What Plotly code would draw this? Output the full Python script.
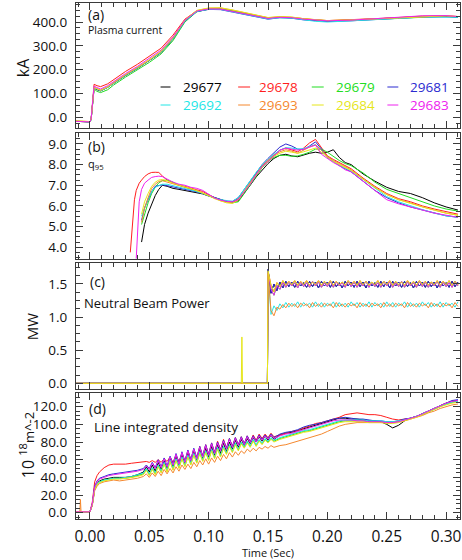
import plotly.graph_objects as go

NAMES = ["29677", "29678", "29679", "29681", "29692", "29693", "29684", "29683"]
COLORS = ["#000000", "#ff1e1e", "#22dd22", "#2a2ad0", "#22e6e6", "#f5882e", "#e6e61a", "#ee22ee"]

# ---------------- (a) Plasma current [kA]
TA = [-0.012, 0.0, 0.001, 0.0035, 0.006, 0.009, 0.015, 0.02, 0.03, 0.04, 0.05, 0.06, 0.07, 0.08,
      0.09, 0.10, 0.11, 0.12, 0.13, 0.14, 0.15, 0.16, 0.17, 0.18, 0.19, 0.20, 0.22, 0.24, 0.26,
      0.28, 0.30, 0.31]
IP = {
    "29677": [-18, -20, -10, 122, 115, 110, 125, 142, 175, 205, 237, 272, 328, 403, 444, 455, 455, 446, 437, 426, 416, 420, 418, 412, 408, 405, 408, 413, 418, 423, 424, 421],
    "29678": [-18, -20, -8, 138, 132, 128, 140, 158, 192, 222, 255, 290, 345, 412, 447, 455, 454, 446, 437, 427, 417, 421, 419, 413, 409, 406, 409, 414, 419, 425, 426, 423],
    "29679": [-18, -20, -12, 118, 108, 103, 115, 135, 168, 198, 230, 266, 322, 400, 443, 454, 455, 447, 438, 427, 417, 420, 418, 411, 407, 404, 407, 412, 417, 422, 424, 421],
    "29681": [-18, -20, -10, 124, 118, 112, 126, 144, 176, 206, 238, 273, 330, 404, 444, 453, 452, 442, 432, 421, 412, 418, 416, 409, 404, 402, 405, 410, 416, 421, 422, 420],
    "29692": [-17, -20, -10, 124, 117, 111, 125, 143, 176, 206, 238, 273, 329, 404, 444, 454, 453, 444, 434, 423, 413, 418, 416, 408, 403, 400, 404, 409, 415, 421, 422, 420],
    "29693": [-16, -19, -10, 125, 119, 113, 127, 145, 178, 208, 240, 276, 333, 408, 448, 458, 459, 450, 440, 428, 418, 422, 420, 414, 409, 406, 409, 414, 419, 424, 426, 423],
    "29684": [-16, -19, -10, 125, 119, 113, 127, 146, 179, 209, 241, 277, 334, 409, 449, 459, 460, 451, 441, 429, 419, 423, 421, 414, 409, 406, 409, 414, 419, 424, 426, 423],
    "29683": [-18, -20, -9, 130, 124, 118, 132, 150, 183, 213, 246, 282, 337, 408, 446, 455, 454, 445, 436, 425, 415, 420, 418, 412, 407, 405, 408, 413, 419, 426, 427, 423],
}

# ---------------- (b) q95
TB = [0.034, 0.0375, 0.039, 0.0415, 0.0435, 0.046, 0.049, 0.052, 0.055, 0.058, 0.061, 0.065,
      0.070, 0.075, 0.080, 0.085, 0.090, 0.095, 0.100, 0.105, 0.110, 0.115, 0.120, 0.125, 0.130,
      0.135, 0.140, 0.145, 0.150, 0.155, 0.160, 0.165, 0.170, 0.175, 0.180, 0.185, 0.190, 0.195,
      0.200, 0.205, 0.210, 0.215, 0.220, 0.230, 0.240, 0.250, 0.260, 0.270, 0.280, 0.290, 0.300, 0.310]
N = None
Q95 = {
    "29677": [N, N, N, N, 4.25, 5.1, 5.65, 6.1, 6.5, 6.8, 7.0, 6.95, 6.85, 6.8, 6.75, 6.7, 6.65, 6.58, 6.48, 6.38, 6.3, 6.22, 6.18, 6.25, 6.6, 7.0, 7.4, 7.75, 8.05, 8.3, 8.45, 8.5, 8.42, 8.38, 8.48, 8.55, 8.6, 8.55, 8.6, 8.72, 8.35, 8.1, 8.0, 7.55, 7.2, 6.9, 6.7, 6.6, 6.4, 6.15, 5.95, 5.8],
    "29678": [3.75, 6.3, 6.75, 7.1, 7.25, 7.42, 7.55, 7.62, 7.63, 7.62, 7.45, 7.25, 7.12, 7.0, 6.95, 6.85, 6.78, 6.7, 6.55, 6.4, 6.3, 6.22, 6.2, 6.35, 6.7, 7.1, 7.55, 7.95, 8.2, 8.45, 8.7, 8.8, 8.7, 8.62, 8.8, 9.05, 9.22, 8.8, 8.42, 8.25, 8.1, 7.95, 7.8, 7.35, 6.95, 6.6, 6.35, 6.2, 6.0, 5.85, 5.72, 5.6],
    "29679": [N, N, N, N, 5.1, 5.6, 6.15, 6.6, 6.9, 7.12, 7.22, 7.25, 7.15, 7.0, 6.92, 6.82, 6.72, 6.6, 6.5, 6.4, 6.3, 6.22, 6.15, 6.2, 6.6, 7.0, 7.45, 7.85, 8.15, 8.35, 8.45, 8.45, 8.4, 8.42, 8.5, 8.6, 8.75, 8.75, 8.6, 8.4, 8.2, 8.05, 7.95, 7.6, 7.15, 6.8, 6.6, 6.4, 6.2, 6.0, 5.85, 5.75],
    "29681": [N, N, N, N, 5.3, 5.9, 6.3, 6.7, 6.95, 7.0, 7.02, 6.98, 6.92, 6.88, 6.82, 6.75, 6.68, 6.6, 6.5, 6.4, 6.3, 6.22, 6.22, 6.4, 6.8, 7.2, 7.65, 8.0, 8.3, 8.6, 8.85, 9.0, 8.9, 8.75, 8.72, 8.9, 9.1, 8.75, 8.35, 8.15, 7.95, 7.8, 7.65, 7.2, 6.75, 6.4, 6.15, 5.95, 5.8, 5.65, 5.52, 5.45],
    "29692": [N, N, N, N, 5.5, 5.9, 6.35, 6.7, 6.9, 6.98, 7.05, 7.05, 6.98, 6.92, 6.85, 6.78, 6.7, 6.6, 6.48, 6.38, 6.3, 6.25, 6.22, 6.4, 6.82, 7.2, 7.62, 7.98, 8.25, 8.5, 8.7, 8.82, 8.8, 8.75, 8.78, 8.88, 8.97, 8.7, 8.38, 8.15, 7.98, 7.82, 7.7, 7.28, 6.85, 6.45, 6.2, 6.0, 5.82, 5.65, 5.52, 5.45],
    "29693": [N, N, N, N, 5.2, 5.9, 6.4, 6.85, 7.05, 7.18, 7.22, 7.15, 7.05, 6.98, 6.9, 6.82, 6.75, 6.62, 6.48, 6.35, 6.25, 6.18, 6.15, 6.3, 6.72, 7.12, 7.55, 7.92, 8.2, 8.45, 8.62, 8.72, 8.65, 8.55, 8.7, 8.85, 8.95, 8.7, 8.4, 8.2, 8.05, 7.9, 7.75, 7.3, 6.9, 6.55, 6.3, 6.15, 5.95, 5.8, 5.65, 5.55],
    "29684": [N, N, N, N, 5.6, 6.2, 6.6, 6.95, 7.15, 7.25, 7.28, 7.22, 7.1, 7.0, 6.92, 6.85, 6.75, 6.62, 6.5, 6.35, 6.25, 6.15, 6.12, 6.28, 6.7, 7.1, 7.5, 7.88, 8.15, 8.4, 8.55, 8.65, 8.6, 8.55, 8.62, 8.72, 8.8, 8.6, 8.35, 8.15, 8.0, 7.85, 7.72, 7.3, 6.9, 6.55, 6.3, 6.12, 5.95, 5.8, 5.65, 5.55],
    "29683": [N, N, 3.45, 6.2, 6.8, 7.1, 7.25, 7.38, 7.42, 7.44, 7.42, 7.3, 7.15, 7.05, 7.0, 6.9, 6.85, 6.75, 6.55, 6.38, 6.28, 6.22, 6.2, 6.3, 6.68, 7.05, 7.5, 7.9, 8.15, 8.45, 8.7, 8.8, 8.75, 8.7, 8.75, 8.85, 8.95, 8.5, 8.3, 8.1, 7.95, 7.75, 7.65, 7.2, 6.75, 6.3, 6.1, 5.95, 5.8, 5.65, 5.55, 5.45],
}

# ---------------- (c) Neutral beam power [MW]
TC_PRE = [-0.012, 0.1275, 0.128, 0.1285, 0.1495]
PNB_PRE = {"spike": [0, 0, 0.70, 0, 0], "flat": [0, 0, 0, 0, 0]}
TC_STEP = 0.0025  # sampling of the beam trace after switch-on at 0.150 s
PNB_UP_A = [1.72, 1.36, 1.50, 1.40, 1.53, 1.44, 1.54, 1.46, 1.53, 1.45,
            1.54, 1.47, 1.52, 1.45, 1.54, 1.46, 1.53, 1.44, 1.54, 1.47,
            1.53, 1.45, 1.54, 1.46, 1.52, 1.44, 1.54, 1.47, 1.53, 1.45,
            1.54, 1.46, 1.53, 1.44, 1.54, 1.47, 1.52, 1.45, 1.54, 1.46,
            1.53, 1.44, 1.54, 1.47, 1.53, 1.45, 1.54, 1.46, 1.52, 1.44,
            1.54, 1.47, 1.53, 1.45, 1.54, 1.46, 1.53, 1.44, 1.54, 1.47,
            1.52, 1.45, 1.54, 1.46, 1.53]
PNB_UP_B = [1.68, 1.42, 1.33, 1.48, 1.42, 1.52, 1.45, 1.53, 1.47, 1.52,
            1.44, 1.53, 1.46, 1.52, 1.45, 1.54, 1.47, 1.53, 1.45, 1.52,
            1.46, 1.54, 1.45, 1.53, 1.47, 1.52, 1.45, 1.54, 1.46, 1.53,
            1.45, 1.52, 1.47, 1.54, 1.45, 1.53, 1.46, 1.52, 1.45, 1.54,
            1.47, 1.53, 1.45, 1.52, 1.46, 1.54, 1.45, 1.53, 1.47, 1.52,
            1.45, 1.54, 1.46, 1.53, 1.45, 1.52, 1.47, 1.54, 1.45, 1.53,
            1.46, 1.52, 1.45, 1.54, 1.47]
PNB_UP_C = [1.70, 1.48, 1.38, 1.52, 1.46, 1.55, 1.48, 1.54, 1.49, 1.55,
            1.48, 1.54, 1.49, 1.55, 1.48, 1.53, 1.49, 1.55, 1.48, 1.54,
            1.49, 1.55, 1.48, 1.54, 1.49, 1.53, 1.48, 1.55, 1.49, 1.54,
            1.48, 1.55, 1.49, 1.54, 1.48, 1.53, 1.49, 1.55, 1.48, 1.54,
            1.49, 1.55, 1.48, 1.54, 1.49, 1.53, 1.48, 1.55, 1.49, 1.54,
            1.48, 1.55, 1.49, 1.54, 1.48, 1.53, 1.49, 1.55, 1.48, 1.54,
            1.49, 1.55, 1.48, 1.54, 1.49]
PNB_LO_A = [1.70, 1.04, 1.17, 1.10, 1.20, 1.14, 1.22, 1.15, 1.21, 1.16,
            1.23, 1.15, 1.22, 1.17, 1.21, 1.15, 1.23, 1.16, 1.22, 1.15,
            1.21, 1.17, 1.23, 1.15, 1.22, 1.16, 1.21, 1.15, 1.23, 1.17,
            1.22, 1.15, 1.21, 1.16, 1.23, 1.15, 1.22, 1.17, 1.21, 1.15,
            1.23, 1.16, 1.22, 1.15, 1.21, 1.17, 1.23, 1.15, 1.22, 1.16,
            1.21, 1.15, 1.23, 1.17, 1.22, 1.15, 1.21, 1.16, 1.23, 1.15,
            1.22, 1.17, 1.21, 1.15, 1.23]
PNB_LO_B = [1.66, 1.10, 1.02, 1.15, 1.12, 1.19, 1.14, 1.21, 1.16, 1.20,
            1.14, 1.21, 1.17, 1.20, 1.14, 1.22, 1.16, 1.20, 1.15, 1.21,
            1.17, 1.20, 1.14, 1.22, 1.16, 1.20, 1.15, 1.21, 1.17, 1.20,
            1.14, 1.22, 1.16, 1.20, 1.15, 1.21, 1.17, 1.20, 1.14, 1.22,
            1.16, 1.20, 1.15, 1.21, 1.17, 1.20, 1.14, 1.22, 1.16, 1.20,
            1.15, 1.21, 1.17, 1.20, 1.14, 1.22, 1.16, 1.20, 1.15, 1.21,
            1.17, 1.20, 1.14, 1.22, 1.16]
PNB = {
    "29677": ("flat", PNB_UP_A), "29678": ("flat", PNB_UP_C), "29679": ("flat", PNB_UP_B),
    "29681": ("flat", PNB_UP_A), "29692": ("flat", PNB_LO_A), "29693": ("flat", PNB_LO_B),
    "29684": ("spike", PNB_UP_C), "29683": ("flat", PNB_UP_B),
}
PNB_DRAW_ORDER = ["29677", "29678", "29679", "29692", "29681", "29683", "29693", "29684"]

# ---------------- (d) Line integrated density [1e18 m^-2]
TD_PRE = [-0.012, -0.0085, -0.008, -0.0075, 0.0, 0.002, 0.004, 0.006, 0.008, 0.012, 0.016,
          0.020, 0.025, 0.030, 0.035, 0.040, 0.045]
TD_MID_START, TD_MID_STEP = 0.0475, 0.0025
TD_POST = [0.160, 0.165, 0.170, 0.175, 0.180, 0.185, 0.190, 0.195, 0.200, 0.205, 0.210, 0.215,
           0.220, 0.225, 0.230, 0.235, 0.240, 0.245, 0.250, 0.255, 0.260, 0.265, 0.270, 0.275,
           0.280, 0.285, 0.290, 0.295, 0.300, 0.305, 0.310]
NE_PRE = {
    "29677": [1, 1, 1, 1, 1, 9, 27, 33, 36, 38, 39, 40, 40, 40, 41, 43, 46],
    "29678": [1, 1, 1, 1, 1, 12, 35, 42, 46, 51, 54, 55, 55, 55, 56, 57, 58],
    "29679": [1, 1, 1, 1, 1, 9, 26, 32, 35, 37, 38, 39, 39, 39, 40, 42, 44],
    "29681": [1, 1, 1, 1, 1, 10, 30, 36, 39, 41, 43, 44, 45, 46, 47, 48, 50],
    "29692": [1, 1, 1, 1, 1, 9, 27, 33, 35, 37, 38, 39, 39, 40, 41, 43, 45],
    "29693": [1, 1, 15, 1, 1, 8, 25, 30, 33, 35, 36, 37, 36, 37, 38, 39, 41],
    "29684": [1, 1, 1, 1, 1, 9, 26, 32, 34, 36, 37, 38, 38, 39, 40, 41, 43],
    "29683": [1, 1, 1, 1, 1, 10, 29, 35, 38, 40, 42, 43, 44, 45, 46, 47, 49],
}
NE_MID = {
    "29677": [52, 46, 54, 47, 57, 49, 59, 50, 62, 52, 64, 53, 66, 55, 68, 57, 70, 59, 72, 61, 73, 63, 75, 65, 77, 67, 79, 69, 80, 72, 82, 74, 83, 76, 84, 78, 85, 80, 86, 81, 87, 82, 88, 83],
    "29678": [58, 57, 59, 57, 60, 57, 61, 58, 63, 57, 65, 58, 67, 59, 70, 60, 72, 62, 75, 64, 77, 66, 79, 68, 81, 71, 83, 73, 84, 75, 85, 77, 86, 78, 87, 80, 88, 82, 89, 84, 89, 85, 90, 86],
    "29679": [49, 43, 50, 44, 53, 46, 56, 47, 59, 49, 60, 51, 62, 53, 64, 55, 66, 57, 68, 59, 69, 60, 71, 62, 73, 64, 74, 67, 76, 69, 78, 71, 79, 74, 80, 75, 82, 76, 82, 78, 83, 80, 84, 81],
    "29681": [54, 50, 57, 51, 60, 52, 62, 53, 64, 55, 67, 56, 69, 58, 71, 60, 73, 62, 75, 64, 77, 66, 79, 68, 80, 71, 82, 73, 84, 75, 85, 77, 86, 78, 87, 80, 87, 81, 88, 83, 88, 84, 89, 85],
    "29692": [50, 44, 51, 45, 54, 47, 57, 48, 60, 50, 61, 52, 63, 54, 65, 56, 67, 58, 69, 60, 70, 61, 72, 63, 74, 65, 75, 68, 77, 70, 79, 72, 80, 75, 81, 76, 83, 77, 83, 79, 84, 81, 85, 82],
    "29693": [44, 40, 45, 41, 47, 42, 49, 44, 50, 45, 52, 47, 54, 49, 55, 50, 57, 52, 59, 54, 61, 55, 62, 57, 64, 59, 66, 61, 68, 63, 69, 65, 70, 67, 72, 69, 73, 70, 74, 72, 75, 73, 76, 74],
    "29684": [48, 42, 49, 43, 52, 45, 55, 46, 58, 48, 59, 50, 61, 52, 63, 54, 65, 56, 67, 58, 68, 59, 70, 61, 72, 63, 73, 66, 75, 68, 77, 70, 78, 73, 79, 74, 81, 75, 81, 77, 82, 79, 83, 80],
    "29683": [53, 49, 56, 50, 59, 51, 61, 52, 63, 54, 66, 55, 68, 57, 70, 59, 72, 61, 74, 63, 76, 65, 78, 67, 79, 70, 81, 72, 83, 74, 84, 76, 85, 77, 86, 79, 86, 80, 87, 82, 87, 83, 88, 84],
}
NE_POST = {
    "29677": [88, 90, 91, 93, 95, 97, 99, 101, 103, 105, 107, 107, 106, 106, 105, 104, 104, 103, 100, 96, 99, 104, 107, 109, 112, 115, 118, 121, 124, 126, 127],
    "29678": [88, 90, 92, 93, 96, 98, 101, 102, 104, 106, 108, 111, 112, 113, 112, 111, 111, 110, 108, 106, 105, 106, 107, 109, 112, 115, 118, 121, 124, 126, 127],
    "29679": [84, 86, 88, 90, 92, 93, 95, 97, 99, 101, 103, 104, 104, 104, 104, 103, 103, 103, 102, 102, 103, 105, 107, 109, 111, 114, 117, 120, 123, 125, 126],
    "29681": [89, 91, 92, 94, 97, 99, 100, 102, 104, 106, 107, 108, 107, 106, 106, 105, 104, 104, 103, 103, 104, 106, 107, 109, 112, 115, 118, 121, 124, 127, 128],
    "29692": [85, 87, 89, 91, 93, 94, 96, 98, 100, 102, 104, 105, 105, 105, 105, 104, 104, 104, 103, 103, 104, 105, 107, 109, 112, 115, 118, 121, 123, 125, 126],
    "29693": [76, 77, 79, 81, 83, 85, 87, 89, 92, 95, 98, 100, 101, 102, 102, 102, 102, 102, 102, 102, 103, 104, 106, 108, 110, 113, 115, 118, 120, 122, 123],
    "29684": [83, 85, 87, 89, 91, 92, 94, 96, 98, 100, 102, 103, 103, 103, 103, 102, 102, 102, 101, 101, 102, 104, 106, 108, 111, 114, 117, 120, 122, 124, 125],
    "29683": [87, 89, 90, 92, 94, 96, 98, 100, 102, 104, 105, 105, 105, 104, 104, 103, 103, 103, 102, 102, 103, 105, 107, 109, 112, 115, 118, 121, 124, 126, 127],
}

# ---------------- layout geometry (pixels)
W, H = 462, 560
ML, MR, MT, MB = 76, 0, 3, 41
PW, PH = W - ML - MR, H - MT - MB
PANELS_PX = [(3, 128), (133, 259), (263, 389), (393, 519)]


def px(x):
    return (x - ML) / PW


def py(y):
    return (H - MB - y) / PH


FONT = "Open Sans"
COLOR_OF = dict(zip(NAMES, COLORS))
fig = go.Figure()

for name in NAMES:
    line = dict(color=COLOR_OF[name], width=1)
    fig.add_trace(go.Scatter(x=TA, y=IP[name], xaxis="x", yaxis="y", mode="lines", line=line,
                             showlegend=False, hoverinfo="skip"))
    fig.add_trace(go.Scatter(x=TB, y=Q95[name], xaxis="x2", yaxis="y2", mode="lines", line=line,
                             showlegend=False, hoverinfo="skip", connectgaps=False))

for name in PNB_DRAW_ORDER:
    line = dict(color=COLOR_OF[name], width=1)
    pre_key, post = PNB[name]
    tc = TC_PRE + [round(0.150 + TC_STEP * k, 5) for k in range(len(post))]
    fig.add_trace(go.Scatter(x=tc, y=PNB_PRE[pre_key] + post, xaxis="x3", yaxis="y3", mode="lines",
                             line=line, showlegend=False, hoverinfo="skip"))

for name in NAMES:
    line = dict(color=COLOR_OF[name], width=1)
    mid = NE_MID[name]
    td = TD_PRE + [round(TD_MID_START + TD_MID_STEP * k, 5) for k in range(len(mid))] + TD_POST
    fig.add_trace(go.Scatter(x=td, y=NE_PRE[name] + mid + NE_POST[name], xaxis="x4", yaxis="y4",
                             mode="lines", line=line, showlegend=False, hoverinfo="skip"))

AX = "#3a3a3a"
xcommon = dict(range=[-0.01173, 0.3117], showline=True, linecolor=AX, linewidth=1.3, mirror="allticks",
               ticks="inside", ticklen=7, tickwidth=1, tickcolor=AX, tick0=0, dtick=0.05,
               minor=dict(dtick=0.01, ticks="inside", ticklen=4, tickcolor=AX, tickwidth=1),
               showgrid=False, zeroline=False, tickformat=".2f", ticklabeloverflow="allow",
               tickfont=dict(family=FONT, size=15.5, color="#111"), ticklabelstandoff=3)
ycommon = dict(showline=True, linecolor=AX, linewidth=1.3, mirror="allticks", ticks="inside",
               ticklen=7, tickwidth=1, tickcolor=AX, showgrid=False, zeroline=False,
               tickfont=dict(family=FONT, size=13.5, color="#111"), ticklabelstandoff=5)

yspec = [([-46, 480], 100, 25, ".1f"), ([3.43, 9.53], 1, 0.25, ".1f"),
         ([-0.086, 1.817], 0.5, 0.125, ".1f"), ([-7.1, 135.5], 20, 5, ".1f")]
for k, ((top, bot), (rng, dt, mdt, fmt)) in enumerate(zip(PANELS_PX, yspec)):
    sfx = "" if k == 0 else str(k + 1)
    dom = [py(bot), py(top)]
    xa = dict(xcommon, anchor="y" + sfx, showticklabels=(k == 3))
    if k > 0:
        xa["matches"] = "x"
    ya = dict(ycommon, domain=dom, anchor="x" + sfx, range=rng, dtick=dt, tickformat=fmt,
              minor=dict(dtick=mdt, ticks="inside", ticklen=4, tickcolor=AX, tickwidth=1))
    fig.layout["xaxis" + sfx] = xa
    fig.layout["yaxis" + sfx] = ya

ann = []


def text(x, y, s, size, xanchor="left", angle=0, color="#111"):
    ann.append(dict(x=px(x), y=py(y), xref="paper", yref="paper", text=s, showarrow=False,
                    xanchor=xanchor, yanchor="middle", textangle=angle,
                    font=dict(family=FONT, size=size, color=color)))


text(86, 14, "(a)", 14)
text(86, 30, "Plasma current", 10.5)
text(86, 146, "(b)", 14)
text(86, 164, "q<sub>95</sub>", 11)
text(88, 281, "(c)", 14)
text(82, 303, "Neutral Beam Power", 13)
text(87, 408, "(d)", 14)
text(92, 427, "Line integrated density", 13.5)
text(23, 68, "kA", 16, xanchor="center", angle=-90)
text(32, 327, "MW", 15, xanchor="center", angle=-90)
text(27, 445, "10 <sup>18</sup><span style='font-size:13px'>m^-2</span>", 16, xanchor="center", angle=-90)
text(269, 552, "Time (Sec)", 11, xanchor="center")

# legend (two rows of four)
shapes = []
LEG_TEXT_X = [182, 258, 335, 410]
LEG_LINE_X = [(161, 171), (239, 251), (313, 325), (389, 400)]
LEG_ROW_Y = [87, 105]
for i, (name, color) in enumerate(zip(NAMES, COLORS)):
    r, c = divmod(i, 4)
    y = LEG_ROW_Y[r]
    x0, x1 = LEG_LINE_X[c]
    shapes.append(dict(type="line", xref="paper", yref="paper", x0=px(x0), x1=px(x1),
                       y0=py(y), y1=py(y), line=dict(color=color, width=1)))
    text(LEG_TEXT_X[c], y, name, 13.5, color=color)

fig.update_layout(width=W, height=H, margin=dict(l=ML, r=MR, t=MT, b=MB),
                  paper_bgcolor="white", plot_bgcolor="white", annotations=ann, shapes=shapes,
                  showlegend=False)
fig.write_html("out.html")
